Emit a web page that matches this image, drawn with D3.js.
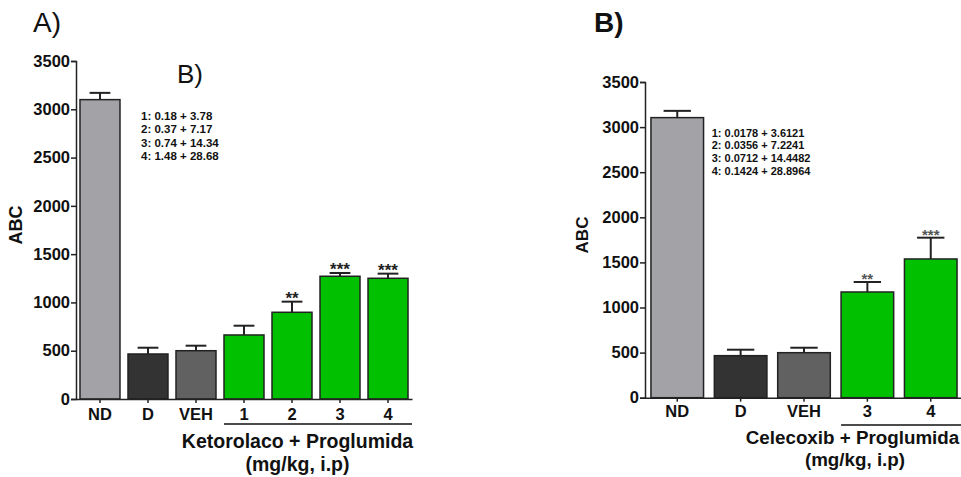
<!DOCTYPE html>
<html><head><meta charset="utf-8">
<script src="https://cdn.jsdelivr.net/npm/d3@7"></script>
<style>body{margin:0;background:#fff}svg{display:block;font-family:Arial,"Liberation Sans",sans-serif}</style>
</head><body>
<svg id="c" width="961" height="477"></svg>
<script>
// Panel A data
const catsA = ["ND","D","VEH","1","2","3","4"];
const valsA = [3100, 466, 500, 663, 898, 1271, 1250];
const errA  = [70, 65, 52, 96, 110, 34, 48];
const sigA  = ["", "", "", "", "**", "***", "***"];
const doseA = ["1: 0.18 + 3.78","2: 0.37 + 7.17","3: 0.74 + 14.34","4: 1.48 + 28.68"];
// Panel B data
const catsB = ["ND","D","VEH","3","4"];
const valsB = [3105, 466, 499, 1172, 1538];
const errB  = [75, 66, 55, 111, 236];
const sigB  = ["", "", "", "**", "***"];
const doseB = ["1: 0.0178 + 3.6121","2: 0.0356 + 7.2241","3: 0.0712 + 14.4482","4: 0.1424 + 28.8964"];
const yTicks = [0,500,1000,1500,2000,2500,3000,3500];
const colors = {"ND":"#a3a2a7","D":"#333333","VEH":"#616161"};
const green = "#00c000";

const svg = d3.select("#c");

function panel(o){
  const g = svg.append("g");
  const y = d3.scaleLinear().domain([0,3500]).range([o.y0,o.y1]);
  const x = d3.scaleBand().domain(o.cats).range([o.x0,o.x1])
    .paddingInner(o.pin).paddingOuter(o.pout);
  // bars
  g.selectAll("rect.bar").data(o.cats).enter().append("rect")
    .attr("x",d=>x(d)).attr("width",x.bandwidth())
    .attr("y",(d,i)=>y(o.vals[i])).attr("height",(d,i)=>y(0)-y(o.vals[i]))
    .attr("fill",d=>colors[d]||green).attr("stroke","#222").attr("stroke-width",1.5);
  // error bars
  const cw = x.bandwidth()*o.capf;
  o.cats.forEach((d,i)=>{
    const cx = x(d)+x.bandwidth()/2;
    const yt = y(o.vals[i]+o.errs[i]);
    g.append("line").attr("x1",cx).attr("x2",cx).attr("y1",y(o.vals[i])).attr("y2",yt)
      .attr("stroke","#222").attr("stroke-width",2);
    g.append("line").attr("x1",cx-cw/2).attr("x2",cx+cw/2).attr("y1",yt).attr("y2",yt)
      .attr("stroke","#222").attr("stroke-width",2);
    if(o.sig[i]) g.append("text").attr("x",cx).attr("y",yt+2.5).attr("text-anchor","middle")
      .attr("font-size",o.starSize).attr("font-weight","bold").attr("fill",o.starCol).text(o.sig[i]);
  });
  // y axis
  const ya = g.append("g").attr("transform",`translate(${o.x0},0)`)
    .call(d3.axisLeft(y).tickValues(yTicks).tickSize(5).tickPadding(1).tickFormat(d3.format("d")));
  ya.select(".domain").attr("stroke","#222").attr("stroke-width",1.5);
  ya.selectAll(".tick line").attr("stroke","#222").attr("stroke-width",1.5);
  ya.selectAll("text").attr("font-size",o.tickSize).attr("font-weight","bold")
    .attr("font-family","Arial, 'Liberation Sans', sans-serif").attr("fill","#111");
  // x axis
  const xa = g.append("g").attr("transform",`translate(0,${o.y0})`)
    .call(d3.axisBottom(x).tickSize(4).tickPadding(o.xpad).tickSizeOuter(0));
  xa.select(".domain").attr("stroke","#222").attr("stroke-width",1.5);
  xa.selectAll(".tick line").attr("stroke","#222").attr("stroke-width",1.5);
  xa.selectAll("text").attr("font-size",16.5).attr("font-weight","bold")
    .attr("font-family","Arial, 'Liberation Sans', sans-serif").attr("fill","#111");
  // group line
  const gs = o.groupCats;
  g.append("line").attr("x1",x(gs[0])).attr("x2",o.x1).attr("y1",o.gy).attr("y2",o.gy)
    .attr("stroke","#111").attr("stroke-width",1.5);
  g.append("text").attr("x",o.lx).attr("y",o.l1y).attr("text-anchor","middle")
    .attr("font-size",o.lsize).attr("font-weight","bold").attr("fill","#111").text(o.label1);
  g.append("text").attr("x",o.lx2).attr("y",o.l2y).attr("text-anchor","middle")
    .attr("font-size",o.lsize).attr("font-weight","bold").attr("fill","#111").text("(mg/kg, i.p)");
  // y label
  g.append("text").attr("transform",`translate(${o.ylx},${o.yly}) rotate(-90)`)
    .attr("text-anchor","middle").attr("font-size",o.ylsize).attr("font-weight","bold")
    .attr("fill","#111").text("ABC");
  // dose annotation
  g.append("g").selectAll("text").data(o.dose).enter().append("text")
    .attr("x",o.ax).attr("y",(d,i)=>o.ay+i*o.adl)
    .attr("font-size",o.asize).attr("font-weight","bold").attr("fill","#111").text(d=>d);
  return g;
}

panel({cats:catsA, vals:valsA, errs:errA, sig:sigA, dose:doseA,
  x0:76, x1:412, y0:399, y1:61, pin:0.1667, pout:0.083, capf:0.52,
  starSize:17, starCol:"#222", tickSize:16.5, xpad:5,
  groupCats:["1","2","3","4"], gy:424, label1:"Ketorolaco + Proglumida",
  lx:297.5, l1y:448, lx2:297.5, l2y:471, lsize:19.5,
  ylx:22, yly:225, ylsize:18, ax:141, ay:120, adl:13.3, asize:11.5});

panel({cats:catsB, vals:valsB, errs:errB, sig:sigB, dose:doseB,
  x0:645, x1:963, y0:397.7, y1:82, pin:0.17, pout:0.094, capf:0.52,
  starSize:15, starCol:"#555", tickSize:16.5, xpad:4,
  groupCats:["3","4"], gy:425, label1:"Celecoxib + Proglumida",
  lx:852.5, l1y:444, lx2:855, l2y:466, lsize:18.8,
  ylx:588, yly:235, ylsize:17, ax:711.7, ay:136.7, adl:12.6, asize:11});

// panel titles
svg.append("text").attr("x",33).attr("y",32).attr("font-size",28).attr("fill","#111").text("A)");
svg.append("text").attr("x",177).attr("y",83).attr("font-size",26).attr("fill","#111").text("B)");
svg.append("text").attr("x",594).attr("y",32).attr("font-size",28).attr("font-weight","bold").attr("fill","#111").text("B)");
</script>
</body></html>
